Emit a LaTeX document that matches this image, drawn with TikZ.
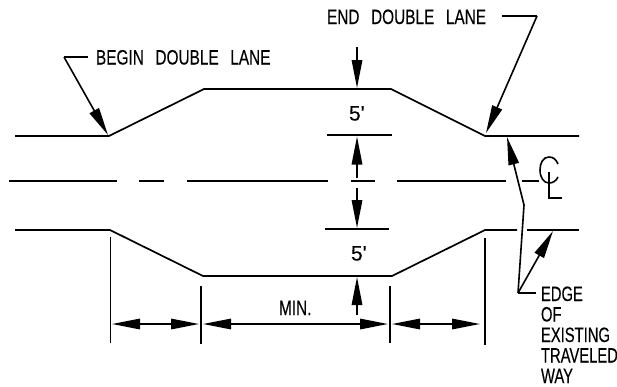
\documentclass[tikz,border=0pt]{standalone}
\usepackage{fontspec}
\setmainfont[FakeStretch=0.74,WordSpace=2.7,FakeBold=0.2]{Liberation Sans}
\newfontfamily\narrowfont[FakeStretch=0.71,FakeBold=0.2]{Liberation Sans}
\newfontfamily\widefont[FakeBold=0.2]{Liberation Sans}
\usetikzlibrary{arrows.meta}
\tikzset{
  road/.style={line width=1.7pt,black},
  thin line/.style={line width=1.6pt,black},
  tipshort/.style={-{Triangle[length=28pt,width=10.5pt]}},
  tiplong/.style={{Triangle[length=28pt,width=10.5pt]}-{Triangle[length=28pt,width=10.5pt]}},
  label/.style={inner sep=0pt,outer sep=0pt,anchor=base west,font=\fontsize{20.8}{21}\selectfont},
  sidelabel/.style={label,font=\fontsize{20.8}{21}\narrowfont},
  fivelabel/.style={label,font=\fontsize{21}{22}\widefont},
}
\begin{document}
\begin{tikzpicture}[x=1pt,y=-1pt]
\useasboundingbox (0,0) rectangle (617,386);
% road edges
\draw[road] (15,136) -- (109,136) -- (204,89) -- (391,89) -- (485,136) -- (579,136);
\draw[road] (15,230) -- (110,230) -- (203,276) -- (392,276) -- (485,230) -- (517,230);
\draw[road] (527,230) -- (579,230);
% centre line
\foreach \a/\b in {9/117,139/164,187/328,351/375,397/506,522/539}
  \draw[road] (\a,181) -- (\b,181);
% witness lines
\draw[thin line] (110.5,237) -- (110.5,343);
\draw[thin line] (201,286) -- (201,344);
\draw[thin line] (390,286) -- (390,343);
\draw[thin line] (485,238) -- (485,345);
\draw[thin line] (327,135) -- (392,135);
\draw[thin line] (325,229) -- (389,229);
% dimension arrows
\draw[thin line,tiplong] (112,324) -- (199,324);
\draw[thin line,tiplong] (203,324) -- (388,324);
\draw[thin line,tiplong] (392,324) -- (480,324);
\draw[thin line,tipshort] (357,47) -- (357,88);
\draw[thin line,tipshort] (357,178) -- (357,136.5);
\draw[thin line,tipshort] (357,188) -- (357,228);
\draw[thin line,tipshort] (357,315) -- (357,277);
% leaders
\coordinate (bk) at (64,57);
\coordinate (ek) at (537,16);
\coordinate (eg) at (518,293);
\node[label] (begin) at (96,64.5) {BEGIN DOUBLE LANE};
\node[label] (end) at (327,24) {END DOUBLE LANE};
\node[fivelabel] (five1) at (349,120.5) {5'};
\node[fivelabel] (five2) at (351,260.5) {5'};
\node[label] (min) at (279,315) {MIN.};
\node[sidelabel] (e1) at (541,301) {EDGE};
\node[sidelabel] (e2) at (541,321.5) {OF};
\node[sidelabel] (e3) at (541,342) {EXISTING};
\node[sidelabel] (e4) at (541,362.5) {TRAVELED};
\node[sidelabel] (e5) at (541,383) {WAY};
\draw[thin line] (88,57) -- (bk);
\draw[thin line,tipshort] (bk) -- (108,135);
\draw[thin line] (502,16) -- (ek);
\draw[thin line,tipshort] (ek) -- (486,133);
\draw[thin line] (536,293) -- (eg);
\draw[thin line,tipshort] (eg) -- (553,231);
\draw[thin line,tipshort] (eg) -- (524,205) -- (507,137);
% centre line symbol
\draw[thin line] (558,164) .. controls (556,159) and (553,157) .. (549,157)
  .. controls (543,157) and (540,163) .. (540,170)
  .. controls (540,178) and (544,183) .. (549,183)
  .. controls (553,183) and (556,181) .. (558,177);
\draw[thin line] (549,172) -- (549,198) -- (562,198);
\end{tikzpicture}
\end{document}
